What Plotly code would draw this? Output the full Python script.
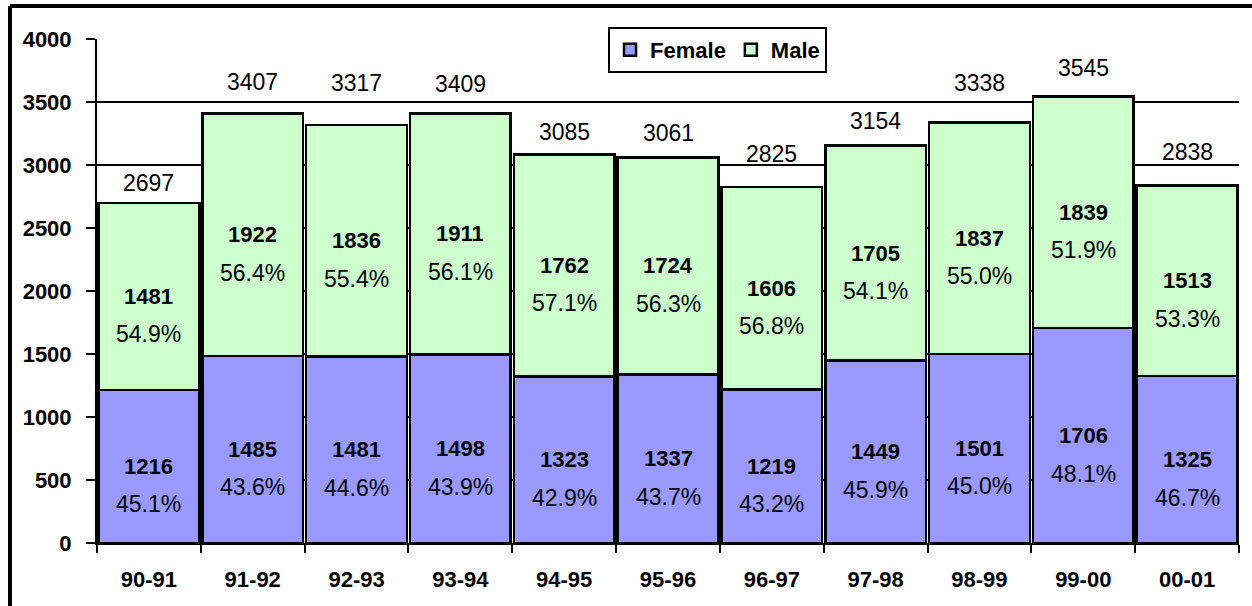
import plotly.graph_objects as go

years = ["90-91", "91-92", "92-93", "93-94", "94-95", "95-96", "96-97", "97-98", "98-99", "99-00", "00-01"]
female = [1216, 1485, 1481, 1498, 1323, 1337, 1219, 1449, 1501, 1706, 1325]
male = [1481, 1922, 1836, 1911, 1762, 1724, 1606, 1705, 1837, 1839, 1513]
y_ticks = [0, 500, 1000, 1500, 2000, 2500, 3000, 3500, 4000]

# label nudges (pixels above the bar top) for the total labels, as placed in the original
total_label_lift = [20, 32, 42, 29, 22, 24, 33, 25, 39, 28, 33]

totals = [f + m for f, m in zip(female, male)]

FONT = "Liberation Sans, Arial, sans-serif"
FS = 22      # bold text
FSN = 23     # normal text

fig = go.Figure()
fig.add_trace(go.Bar(x=years, y=female, name="Female",
                     marker=dict(color="#9999FF", line=dict(color="black", width=2.5)),
                     hoverinfo="skip"))
fig.add_trace(go.Bar(x=years, y=male, name="Male",
                     marker=dict(color="#CCFFCC", line=dict(color="black", width=2.5)),
                     hoverinfo="skip"))

ann = []
for yr, f, m, t, lift in zip(years, female, male, totals, total_label_lift):
    ann.append(dict(x=yr, y=f / 2, text=f"<b>{f}</b>", showarrow=False,
                    font=dict(family=FONT, size=FS, color="black")))
    ann.append(dict(x=yr, y=f / 2, text=f"{f / t * 100:.1f}%", showarrow=False, yshift=-38,
                    font=dict(family=FONT, size=FSN, color="black")))
    ann.append(dict(x=yr, y=f + m / 2, text=f"<b>{m}</b>", showarrow=False,
                    font=dict(family=FONT, size=FS, color="black")))
    ann.append(dict(x=yr, y=f + m / 2, text=f"{m / t * 100:.1f}%", showarrow=False, yshift=-38,
                    font=dict(family=FONT, size=FSN, color="black")))
    ann.append(dict(x=yr, y=t, text=f"{t}", showarrow=False, yanchor="middle", yshift=lift,
                    font=dict(family=FONT, size=FSN, color="black")))

# outer frame (left and top edges visible)
L = -0.0762
T = 1.0655
shapes = [
    dict(type="line", xref="paper", yref="paper", x0=L, x1=1.1, y0=T, y1=T,
         line=dict(color="black", width=4)),
    dict(type="line", xref="paper", yref="paper", x0=L, x1=L, y0=-0.3, y1=T,
         line=dict(color="black", width=4)),
]

fig.update_layout(
    width=1252, height=606,
    margin=dict(l=97, r=13, t=39, b=63),
    paper_bgcolor="white", plot_bgcolor="white",
    barmode="stack", bargap=0.03,
    font=dict(family=FONT, size=FS, color="black"),
    annotations=ann,
    shapes=shapes,
    showlegend=True,
    legend=dict(orientation="h", x=0.4475, y=1.024, xanchor="left", yanchor="top",
                bgcolor="white", bordercolor="black", borderwidth=2,
                font=dict(family=FONT, size=FS, color="black", weight="bold"),
                traceorder="normal", itemwidth=30),
    xaxis=dict(type="category", showline=True, linecolor="black", linewidth=2,
               ticks="outside", tickson="boundaries", ticklen=8, tickwidth=2, tickcolor="black",
               tickfont=dict(family=FONT, size=FS, color="black", weight="bold"),
               ticklabelstandoff=16, showgrid=False),
    yaxis=dict(range=[0, 4000], tickvals=y_ticks, showline=True, linecolor="black", linewidth=2,
               ticks="outside", ticklen=9, tickwidth=2, tickcolor="black",
               showgrid=True, gridcolor="black", gridwidth=2, zeroline=False,
               tickfont=dict(family=FONT, size=FS, color="black", weight="bold"),
               ticklabelstandoff=10),
)

fig.write_html("out.html", config={"displayModeBar": False},
               post_script="document.body.style.margin='0';document.body.style.overflow='hidden';")
